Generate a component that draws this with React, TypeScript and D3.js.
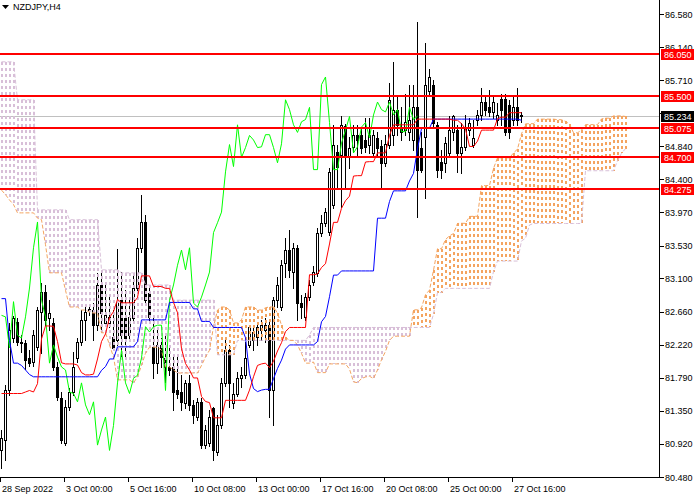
import React from 'react';
import * as d3 from 'd3';

const title = 'NZDJPY,H4';

// H4 candles (left to right)
const opens = [
  80.83, 80.97, 81.62, 82.31, 82.52, 82.26, 82.24, 82.05, 81.99, 82.19,
  82.65, 82.92, 82.57, 82.51, 81.93, 81.52, 80.93, 81.40, 81.60, 82.05,
  82.26, 82.55, 82.68, 82.68, 82.48, 83.01, 82.51, 82.51, 82.32, 82.28,
  82.81, 82.57, 82.35, 82.57, 82.97, 83.50, 83.84, 82.90, 82.19, 81.98,
  82.22, 82.05, 81.93, 81.93, 81.62, 81.60, 81.45, 81.72, 81.43, 81.27,
  81.47, 80.90, 80.93, 81.39, 80.81, 81.16, 81.72, 82.15, 81.45, 81.58,
  81.78, 81.82, 82.22, 82.28, 82.32, 82.42, 82.42, 82.48, 81.62, 82.81,
  82.72, 83.30, 83.47, 83.18, 83.50, 82.77, 82.59, 82.85, 83.05, 83.17,
  83.70, 83.83, 83.71, 84.07, 84.76, 84.72, 85.11, 84.70, 84.83, 84.99,
  84.99, 84.92, 84.86, 84.75, 84.95, 84.84, 84.62, 84.86, 84.99, 85.32,
  85.09, 85.05, 85.03, 84.92, 85.35, 84.82, 84.96, 85.56, 85.65, 85.12,
  84.63, 84.62, 84.75, 85.02, 85.05, 84.75, 84.83, 85.05, 84.86, 85.19,
  85.25, 85.42, 85.35, 85.29, 85.19, 85.46, 85.46, 85.38, 85.19, 85.35,
  85.25,
];
const highs = [
  81.10, 81.69, 82.51, 82.60, 82.57, 82.35, 82.28, 82.15, 82.42, 82.72,
  83.04, 83.01, 82.81, 82.57, 81.99, 81.60, 81.49, 81.65, 82.13, 82.31,
  82.68, 82.75, 82.75, 82.77, 83.17, 83.17, 83.05, 82.85, 82.68, 83.49,
  83.18, 82.94, 82.81, 83.14, 83.63, 84.20, 83.93, 82.98, 82.59, 82.42,
  82.31, 82.38, 82.22, 82.09, 82.06, 81.82, 81.76, 81.82, 81.49, 81.52,
  81.52, 81.16, 81.36, 81.40, 81.30, 81.78, 82.28, 82.22, 81.72, 81.86,
  81.93, 82.26, 82.48, 82.48, 82.51, 82.55, 82.57, 82.55, 82.85, 83.12,
  83.34, 83.63, 83.74, 83.56, 83.54, 82.88, 82.90, 83.08, 83.26, 83.76,
  83.93, 84.03, 84.55, 85.12, 84.86, 85.23, 85.13, 84.96, 85.12, 85.12,
  85.09, 85.21, 85.21, 85.05, 85.02, 84.92, 84.99, 85.67, 85.95, 85.48,
  85.35, 85.52, 85.65, 85.65, 86.48, 85.02, 86.20, 85.85, 85.71, 85.16,
  84.79, 84.96, 85.23, 85.25, 85.12, 85.15, 85.25, 85.21, 85.19, 85.32,
  85.61, 85.48, 85.58, 85.48, 85.41, 85.52, 85.52, 85.45, 85.48, 85.61,
  85.29,
];
const lows = [
  80.60, 80.70, 81.56, 82.26, 82.22, 82.13, 81.90, 81.94, 81.94, 82.15,
  82.11, 82.48, 82.42, 81.89, 81.49, 80.93, 80.90, 81.36, 81.56, 81.99,
  82.22, 82.28, 82.61, 82.28, 82.42, 82.42, 82.47, 82.46, 82.15, 82.22,
  82.06, 82.06, 82.28, 82.52, 82.92, 83.45, 82.77, 82.55, 81.78, 81.85,
  81.93, 81.73, 81.82, 81.36, 81.52, 81.36, 81.39, 81.36, 81.19, 81.23,
  80.86, 80.86, 80.89, 80.70, 80.77, 81.12, 81.68, 81.40, 81.39, 81.55,
  81.66, 81.78, 82.19, 82.15, 82.22, 82.28, 82.26, 81.27, 81.16, 82.72,
  82.68, 83.12, 83.12, 82.97, 82.55, 82.57, 82.55, 82.81, 83.01, 83.13,
  83.66, 83.79, 83.67, 84.03, 84.30, 84.04, 84.29, 84.55, 84.76, 84.72,
  84.75, 84.76, 84.75, 84.70, 84.72, 84.29, 84.58, 84.82, 84.86, 84.99,
  84.92, 84.99, 84.92, 84.79, 83.91, 84.50, 84.16, 85.52, 85.08, 84.43,
  84.42, 84.50, 84.70, 84.92, 84.50, 84.49, 84.79, 84.99, 84.83, 85.12,
  85.19, 85.25, 85.23, 85.21, 85.12, 85.12, 84.99, 84.95, 85.12, 85.12,
  85.16,
];
const closes = [
  80.99, 81.62, 82.42, 82.57, 82.26, 82.25, 82.02, 81.98, 82.35, 82.68,
  82.92, 82.55, 82.64, 81.93, 81.53, 80.97, 81.40, 81.60, 81.93, 82.26,
  82.55, 82.65, 82.69, 82.48, 83.01, 82.64, 82.61, 82.59, 82.18, 82.79,
  82.35, 82.31, 82.59, 82.97, 83.50, 83.84, 82.81, 82.59, 81.98, 82.22,
  82.06, 81.93, 81.89, 81.60, 81.58, 81.47, 81.72, 81.43, 81.30, 81.47,
  80.90, 81.10, 81.27, 80.83, 81.16, 81.72, 82.15, 81.72, 81.58, 81.78,
  81.82, 82.05, 82.46, 82.39, 82.46, 82.48, 82.48, 81.62, 82.81, 83.01,
  83.27, 83.47, 83.21, 83.50, 82.77, 82.72, 82.85, 83.01, 83.18, 83.70,
  83.83, 83.97, 84.50, 84.86, 84.57, 85.12, 84.69, 84.82, 84.98, 84.92,
  84.82, 84.83, 84.99, 84.99, 84.82, 84.62, 84.87, 85.45, 85.32, 85.12,
  85.02, 85.16, 85.19, 85.35, 84.53, 84.53, 85.65, 85.75, 85.15, 84.53,
  84.53, 84.88, 85.05, 85.23, 84.75, 84.83, 85.09, 85.15, 84.95, 85.25,
  85.42, 85.32, 85.29, 85.42, 85.25, 85.32, 85.03, 85.03, 85.35, 85.19,
  85.234,
];

// Ichimoku values at the left edge (their history is off the chart)
const tenkanStart = [81.58, 81.58, 81.58, 81.58, 81.58, 81.58, 81.60, 81.62];
const kijunStart = [
  82.83, 82.83, 82.28, 81.98, 81.98, 81.95, 81.89, 81.83, 81.80, 81.80,
  81.80, 81.80, 81.80, 81.80, 81.80, 81.80, 81.80, 81.80, 81.80, 81.80,
  81.80, 81.80, 81.80, 81.80, 81.80,
];
const spanAStart = [
  84.26, 84.20, 84.13, 84.07, 83.96, 83.96, 83.96, 83.96, 83.96, 83.89,
  83.87, 83.54, 83.17, 83.17, 83.17, 83.17, 82.94, 82.72, 82.72, 82.72,
  82.68, 82.68, 82.65, 82.64, 82.64, 82.38, 82.38, 82.22, 82.06, 81.76,
  81.76, 81.76, 81.76, 81.72, 81.80, 81.95, 82.11, 82.19, 82.19, 82.19,
  82.15, 81.93, 81.93, 81.89, 81.85, 81.85, 81.85, 81.85, 81.85, 81.85,
  81.95, 82.06, 82.15, 82.46, 82.68, 82.72, 82.72, 82.68, 82.51, 82.51,
  82.55, 82.72, 82.72, 82.72, 82.68, 82.68, 82.71, 82.72, 82.72, 82.64,
  82.48, 82.32, 82.28, 82.28, 82.22, 82.11, 81.98, 81.98,
];
const spanBStart = [
  85.95, 85.95, 85.95, 85.95, 85.45, 85.45, 85.45, 85.45, 85.45, 84.00,
  84.00, 84.00, 84.00, 84.00, 84.00, 84.00, 84.00, 83.87, 83.87, 83.87,
  83.87, 83.87, 83.87, 83.87, 83.87, 83.21, 83.21, 83.21, 83.21, 83.21,
  83.17, 83.17, 83.17, 83.17, 83.17, 83.17, 83.01, 83.01, 83.01, 83.01,
  83.01, 83.01, 83.01, 82.81, 82.81, 82.81, 82.81, 82.81, 82.81, 82.81,
  82.81, 82.81, 82.81, 82.81, 82.09, 82.09, 82.09, 82.09, 82.09, 82.28,
  82.28, 82.28, 82.28, 82.28, 82.28, 82.28, 82.28, 82.28, 82.28, 82.28,
  82.28, 82.28, 82.28, 82.28, 82.28, 82.28, 82.28, 82.35,
];

const priceTicks = [86.58, 86.14, 85.71, 85.27, 84.84, 84.4, 83.97, 83.53, 83.1, 82.66, 82.22, 81.79, 81.35, 80.92, 80.48];
const levels = [86.05, 85.5, 85.075, 84.7, 84.275];
const bid = 85.234;
const timeTickBars = [0, 16, 32, 48, 64, 80, 96, 112, 128];
const timeLabels = ['28 Sep 2022', '3 Oct 00:00', '5 Oct 16:00', '10 Oct 08:00', '13 Oct 00:00', '17 Oct 16:00', '20 Oct 08:00', '25 Oct 00:00', '27 Oct 16:00'];

const W = 700;
const H = 500;
const axisX = 660;
const axisY = 477;
const font = '"Liberation Sans", Arial, sans-serif';

const x = d3.scaleLinear().domain([0, 164]).range([1, 657]);
const y = d3.scaleLinear().domain([80.48, 86.58]).range([477, 14]);

const mid = (from: number, to: number) =>
  ((d3.max(highs.slice(from, to + 1)) as number) + (d3.min(lows.slice(from, to + 1)) as number)) / 2;

const n = closes.length;
const tenkan = closes.map((_, i) => (i < tenkanStart.length ? tenkanStart[i] : mid(i - 8, i)));
const kijun = closes.map((_, i) => (i < kijunStart.length ? kijunStart[i] : mid(i - 25, i)));
const spanA = d3.range(n + 26).map(i => (i < spanAStart.length ? spanAStart[i] : (tenkan[i - 26] + kijun[i - 26]) / 2));
const spanB = d3.range(n + 26).map(i => (i < spanBStart.length ? spanBStart[i] : mid(i - 77, i - 26)));
const chikou = closes.slice(26);

const lineGen = d3
  .line<number>()
  .x((_, i) => x(i) + 0.5)
  .y(v => y(v));

export default function App() {
  return (
    <>
      <style>{`body{margin:0;background:#fff}`}</style>
      <svg width={W} height={H} style={{ display: 'block', fontFamily: font }}>
        <rect width={W} height={H} fill="#fff" />

        {/* bid line */}
        <line x1={0} x2={axisX} y1={Math.round(y(bid)) + 0.5} y2={Math.round(y(bid)) + 0.5} stroke="#c0c0c0" />

        {/* candles */}
        <g shapeRendering="crispEdges">
          {closes.map((c, i) => {
            const o = opens[i];
            const cx = Math.round(x(i));
            const top = Math.round(y(Math.max(o, c)));
            const bot = Math.round(y(Math.min(o, c)));
            const bull = c >= o;
            return (
              <g key={i}>
                <line x1={cx + 0.5} x2={cx + 0.5} y1={Math.round(y(highs[i]))} y2={Math.round(y(lows[i])) + 1} stroke="#000" />
                {bot - top < 1 ? (
                  <line x1={cx - 1} x2={cx + 2} y1={top + 0.5} y2={top + 0.5} stroke="#000" />
                ) : (
                  <rect x={cx - 0.5} y={top + 0.5} width={2} height={bot - top} fill={bull ? '#fff' : '#000'} stroke="#000" />
                )}
              </g>
            );
          })}
        </g>

        {/* kumo hatch */}
        <g shapeRendering="crispEdges">
          {spanA.map((a, i) => {
            const b = spanB[i];
            const y1 = Math.round(y(Math.max(a, b)));
            const y2 = Math.round(y(Math.min(a, b)));
            return (
              <line
                key={i}
                x1={Math.round(x(i)) + 1}
                x2={Math.round(x(i)) + 1}
                y1={y1}
                y2={y2}
                stroke={a >= b ? '#f4a460' : '#d8bfd8'}
                strokeWidth={2}
                strokeDasharray="3,3"
              />
            );
          })}
        </g>
        <path d={lineGen(spanB) ?? ''} fill="none" stroke="#d8bfd8" strokeDasharray="4,2" />
        <path d={lineGen(spanA) ?? ''} fill="none" stroke="#f4a460" strokeDasharray="4,2" />

        {/* tenkan, kijun, chikou */}
        <path d={lineGen(chikou) ?? ''} fill="none" stroke="#00ff00" />
        <path d={lineGen(kijun) ?? ''} fill="none" stroke="#0000ff" />
        <path d={lineGen(tenkan) ?? ''} fill="none" stroke="#ff0000" />

        {/* horizontal levels */}
        {levels.map(l => (
          <line key={l} x1={0} x2={axisX} y1={Math.round(y(l))} y2={Math.round(y(l))} stroke="#ff0000" strokeWidth={2} />
        ))}

        {/* axes */}
        <g shapeRendering="crispEdges" stroke="#000">
          <line x1={axisX - 0.5} x2={axisX - 0.5} y1={0} y2={axisY + 1} />
          <line x1={0} x2={axisX} y1={axisY + 0.5} y2={axisY + 0.5} />
          {priceTicks.map(p => (
            <line key={p} x1={axisX} x2={axisX + 4} y1={Math.round(y(p)) + 0.5} y2={Math.round(y(p)) + 0.5} />
          ))}
          {timeTickBars.map(b => (
            <line key={b} x1={Math.round(x(b)) - 0.5} x2={Math.round(x(b)) - 0.5} y1={axisY} y2={axisY + 5} />
          ))}
        </g>
        <g fontSize={9} fill="#000">
          {priceTicks.map(p => (
            <text key={p} x={axisX + 5} y={y(p) + 3.5}>
              {p.toFixed(3)}
            </text>
          ))}
          {timeTickBars.map((b, k) => (
            <text key={b} x={Math.round(x(b)) + 1} y={492}>
              {timeLabels[k]}
            </text>
          ))}
        </g>

        {/* price labels */}
        {levels.map(l => (
          <g key={l}>
            <rect x={axisX + 1} y={Math.round(y(l)) - 5} width={33} height={11} fill="#ff0000" />
            <text x={axisX + 4} y={Math.round(y(l)) + 4} fontSize={9} fill="#fff">
              {l.toFixed(3)}
            </text>
          </g>
        ))}
        <rect x={axisX + 1} y={Math.round(y(bid)) - 5} width={33} height={11} fill="#000" />
        <text x={axisX + 4} y={Math.round(y(bid)) + 4} fontSize={9} fill="#fff">
          {bid.toFixed(3)}
        </text>

        {/* title */}
        <path d="M2,5 H9 L5.5,9 Z" fill="#000" />
        <text x={13} y={10} fontSize={9} fill="#000">
          {title}
        </text>
      </svg>
    </>
  );
}
